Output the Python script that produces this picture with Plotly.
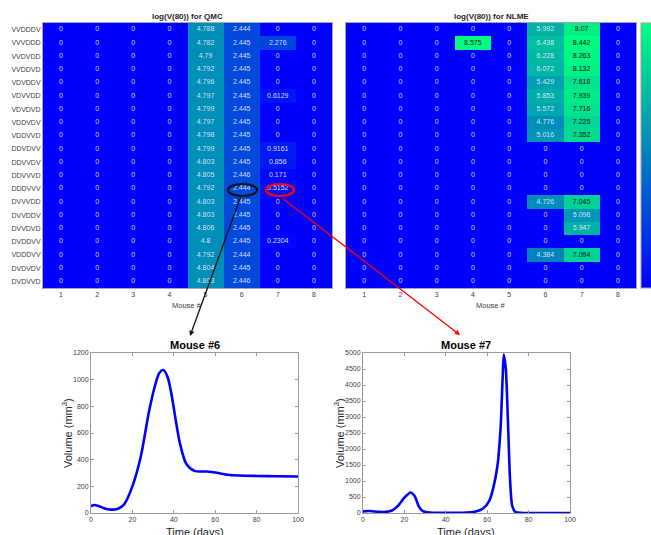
import plotly.graph_objects as go

# ---- heatmap data: log(V(80)) per treatment schedule and mouse ----
schedules = ["VVDDDV", "VVVDDD", "VVDVDD", "VVDDVD", "VDVDDV", "VDVVDD", "VDVDVD",
             "VDDVDV", "VDDVVD", "DDVDVV", "DDVVDV", "DDVVVD", "DDDVVV", "DVVVDD",
             "DVVDDV", "DVVDVD", "DVDDVV", "VDDDVV", "DVDVDV", "DVDVVD"]
mice = [1, 2, 3, 4, 5, 6, 7, 8]

qmc_m5 = [4.788, 4.782, 4.79, 4.792, 4.796, 4.797, 4.799, 4.797, 4.798, 4.799,
          4.803, 4.805, 4.792, 4.803, 4.803, 4.806, 4.8, 4.792, 4.804, 4.803]
qmc_m6 = [2.444, 2.445, 2.445, 2.445, 2.445, 2.445, 2.445, 2.445, 2.445, 2.445,
          2.445, 2.446, 2.444, 2.445, 2.445, 2.445, 2.445, 2.444, 2.445, 2.446]
qmc_m7 = [0, 2.276, 0, 0, 0, 0.6129, 0, 0, 0, 0.9161,
          0.856, 0.171, 0.5152, 0, 0, 0, 0.2304, 0, 0, 0]

nlme_m4 = [0, 8.575, 0, 0, 0, 0, 0, 0, 0, 0,
           0, 0, 0, 0, 0, 0, 0, 0, 0, 0]
nlme_m6 = [5.992, 6.438, 6.228, 6.072, 5.429, 5.853, 5.572, 4.776, 5.016, 0,
           0, 0, 0, 4.726, 0, 0, 0, 4.384, 0, 0]
nlme_m7 = [8.07, 8.442, 8.263, 8.132, 7.618, 7.939, 7.716, 7.225, 7.352, 0,
           0, 0, 0, 7.045, 5.096, 5.947, 0, 7.094, 0, 0]

zeros = [0] * len(schedules)

# ---- tumour volume curves for mice 6 and 7 (schedule DDDVVV) ----
t6 = [0, 1.5, 4, 7, 10, 13, 16, 20, 24, 28, 31, 33, 35, 37, 39, 41, 43, 46,
      50, 56, 60, 66, 72, 80, 90, 100]
v6 = [50, 60, 50, 32, 25, 32, 65, 200, 420, 760, 960, 1050, 1072, 1020, 880,
      690, 520, 370, 316, 311, 304, 287, 281, 278, 276, 274]

t7 = [0, 3, 7, 10, 14, 17, 20, 23, 25, 27, 29, 32, 40, 48, 54, 58, 61, 63, 65,
      66.5, 67.5, 68, 69, 70, 71, 72, 73.5, 76, 85, 100]
v7 = [50, 62, 40, 30, 80, 230, 480, 640, 520, 200, 60, 15, 5, 10, 40, 140, 380,
      800, 1500, 2700, 4300, 4950, 4500, 2900, 1100, 250, 40, 5, 0, 0]

W, H = 651, 535
FONT = "Liberation Sans, Arial, sans-serif"
ZMAX = 8.575
winter = [[0, "rgb(0,0,255)"], [1, "rgb(0,255,128)"]]


def px(x):
    return x / W


def py(y):
    return 1 - y / H


def columns_to_rows(cols):
    return [[cols[c][r] for c in range(len(cols))] for r in range(len(schedules))]


qmc_cols = [zeros, zeros, zeros, zeros, qmc_m5, qmc_m6, qmc_m7, zeros]
nlme_cols = [zeros, zeros, zeros, nlme_m4, zeros, nlme_m6, nlme_m7, zeros]
qmc_z = columns_to_rows(qmc_cols)
nlme_z = columns_to_rows(nlme_cols)

fig = go.Figure()


def add_heatmap(z, xa, ya, show_scale):
    fig.add_trace(go.Heatmap(
        z=z, x=mice, y=schedules, xaxis=xa, yaxis=ya,
        colorscale=winter, zmin=0, zmax=ZMAX, showscale=show_scale,
        hoverinfo="skip",
        colorbar=dict(x=px(641), xanchor="left", xpad=0, ypad=0, y=py(23),
                      yanchor="top", len=265, lenmode="pixels", thickness=13,
                      thicknessmode="pixels", outlinecolor="#a0a0a0", outlinewidth=1,
                      ticks="inside", ticklen=3, tickcolor="#404040", tick0=0,
                      dtick=1, showticklabels=False),
    ))
    xs, ys, txt, cols = [], [], [], []
    for r, name in enumerate(schedules):
        for c, m in enumerate(mice):
            v = z[r][c]
            xs.append(m)
            ys.append(name)
            txt.append(f"{v:.4g}")
            cols.append("#111111" if v / ZMAX > 0.8 else "rgba(235,235,255,0.92)")
    fig.add_trace(go.Scatter(
        x=xs, y=ys, text=txt, mode="text", xaxis=xa, yaxis=ya,
        textfont=dict(size=7, color=cols, family=FONT), hoverinfo="skip",
        showlegend=False,
    ))


add_heatmap(qmc_z, "x", "y", False)
add_heatmap(nlme_z, "x2", "y2", True)

fig.add_trace(go.Scatter(x=t6, y=v6, mode="lines", xaxis="x3", yaxis="y3",
                         line=dict(color="#0000ff", width=2.6, shape="spline", smoothing=0.8),
                         showlegend=False, hoverinfo="skip"))
fig.add_trace(go.Scatter(x=t7, y=v7, mode="lines", xaxis="x4", yaxis="y4",
                         line=dict(color="#0000ff", width=2.6, shape="spline", smoothing=0.6),
                         showlegend=False, hoverinfo="skip"))

tickfont = dict(size=7, color="#404040", family=FONT)
hm_x = dict(tickvals=mice, range=[0.5, 8.5], showline=True, mirror=True,
            linecolor="#a6a6a6", linewidth=1, ticks="", showgrid=False,
            zeroline=False, tickfont=tickfont, fixedrange=True)
hm_y = dict(range=[len(schedules) - 0.5, -0.5], showline=True, mirror=True,
            linecolor="#a6a6a6", linewidth=1, ticks="", showgrid=False,
            zeroline=False, tickfont=tickfont, domain=[py(288), py(23)])

line_x = dict(range=[0, 100], dtick=20, showline=True, mirror="ticks",
              linecolor="#9a9a9a", linewidth=1, ticks="inside", ticklen=3,
              tickcolor="#9a9a9a", showgrid=False, zeroline=False, tickfont=tickfont)
line_y = dict(showline=True, mirror="ticks", linecolor="#9a9a9a", linewidth=1,
              ticks="inside", ticklen=3, tickcolor="#9a9a9a", showgrid=False,
              zeroline=False, tickfont=tickfont, domain=[py(513), py(353)])

fig.update_layout(
    width=W, height=H, margin=dict(l=0, r=0, t=0, b=0, autoexpand=False),
    paper_bgcolor="white", plot_bgcolor="white", showlegend=False,
    font=dict(family=FONT),
    xaxis=dict(hm_x, domain=[px(43), px(332)], anchor="y"),
    yaxis=dict(hm_y, anchor="x"),
    xaxis2=dict(hm_x, domain=[px(346), px(636)], anchor="y2"),
    yaxis2=dict(hm_y, anchor="x2", showticklabels=False),
    xaxis3=dict(line_x, domain=[px(91), px(298)], anchor="y3"),
    yaxis3=dict(line_y, range=[0, 1200], dtick=200, anchor="x3"),
    xaxis4=dict(line_x, domain=[px(363), px(570)], anchor="y4"),
    yaxis4=dict(line_y, range=[0, 5000], dtick=500, anchor="x4"),
)

# titles and axis labels
def label(text, x, y, size, bold=False, angle=0, color="#262626"):
    fig.add_annotation(text=f"<b>{text}</b>" if bold else text, x=px(x), y=py(y),
                       xref="paper", yref="paper", showarrow=False,
                       textangle=angle, font=dict(size=size, color=color, family=FONT),
                       xanchor="center", yanchor="middle")


label("log(V(80)) for QMC", 187, 16, 8, bold=True)
label("log(V(80)) for NLME", 491, 16, 8, bold=True)
label("Mouse #", 187, 305, 7.5, color="#404040")
label("Mouse #", 491, 305, 7.5, color="#404040")
label("Mouse #6", 195, 345, 11, bold=True, color="#000000")
label("Mouse #7", 466, 345, 11, bold=True, color="#000000")
label("Volume (mm<sup>3</sup>)", 67, 433, 11, angle=-90)
label("Volume (mm<sup>3</sup>)", 339, 433, 11, angle=-90)
label("Time (days)", 195, 532, 11)
label("Time (days)", 466, 532, 11)

# highlight the DDDVVV cells for mice 6 and 7
fig.add_shape(type="circle", xref="paper", yref="paper",
              x0=px(228), x1=px(257), y0=py(196), y1=py(184),
              line=dict(color="#111111", width=2.2))
fig.add_shape(type="circle", xref="paper", yref="paper",
              x0=px(266), x1=px(294), y0=py(196), y1=py(184),
              line=dict(color="#ff0000", width=2.2))

# arrows from highlighted cells to their volume curves
fig.add_annotation(x=px(190), y=py(336), xref="paper", yref="paper", text="",
                   showarrow=True, ax=241 - 190, ay=196 - 336, arrowhead=2,
                   arrowsize=0.8, arrowwidth=1.3, arrowcolor="#111111")
fig.add_annotation(x=px(460), y=py(335), xref="paper", yref="paper", text="",
                   showarrow=True, ax=281 - 460, ay=197 - 335, arrowhead=2,
                   arrowsize=0.8, arrowwidth=1.3, arrowcolor="#ff0000")

fig.write_html("out.html")
